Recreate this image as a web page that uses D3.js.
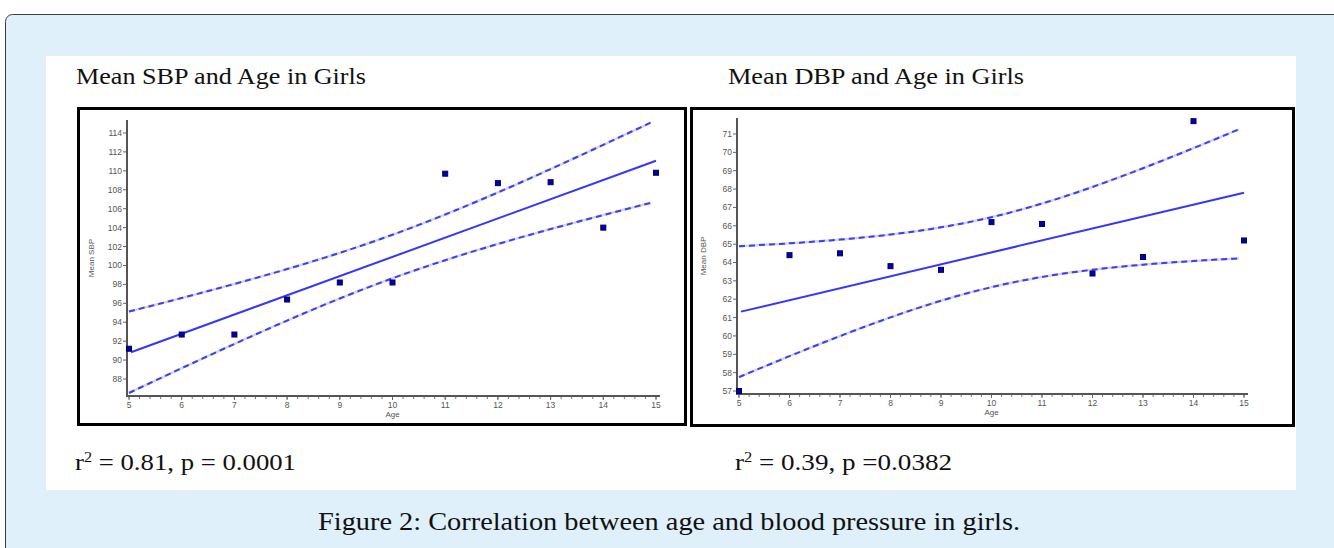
<!DOCTYPE html>
<html>
<head>
<meta charset="utf-8">
<script src="https://cdn.jsdelivr.net/npm/d3@7"></script>
<style>
  body { margin: 0; background: #fff; }
  svg { display: block; }
</style>
</head>
<body>
<div id="chart"></div>
<script>
// ages on the x axis
var ages = [5, 6, 7, 8, 9, 10, 11, 12, 13, 14, 15];
// mean systolic BP per age (girls)
var sbpValues = [91.2, 92.7, 92.7, 96.4, 98.2, 98.2, 109.7, 108.7, 108.8, 104.0, 109.8];
// mean diastolic BP per age (girls)
var dbpValues = [57.0, 64.4, 64.5, 63.8, 63.6, 66.2, 66.1, 63.4, 64.3, 71.7, 65.2];
var sbpTicks = [88, 90, 92, 94, 96, 98, 100, 102, 104, 106, 108, 110, 112, 114];
var dbpTicks = [57, 58, 59, 60, 61, 62, 63, 64, 65, 66, 67, 68, 69, 70, 71];
var ageTicks = [5, 6, 7, 8, 9, 10, 11, 12, 13, 14, 15];
var titles = ["Mean SBP and Age in Girls", "Mean DBP and Age in Girls"];
var stats = [["0.81", "p = 0.0001"], ["0.39", "p =0.0382"]];
var caption = "Figure 2: Correlation between age and blood pressure in girls.";
var tCrit = 2.262; // t(0.975, df = 9) for the 95% band

var svg = d3.select("#chart").append("svg")
  .attr("width", 1334)
  .attr("height", 548);

// light blue figure card
svg.append("rect")
  .attr("x", 5.5).attr("y", 14.5)
  .attr("width", 1340).attr("height", 560)
  .attr("rx", 7)
  .style("fill", "#dff0fb")
  .style("stroke", "#3d3d3d")
  .style("stroke-width", 1);

// white picture area
svg.append("rect")
  .attr("x", 46).attr("y", 56)
  .attr("width", 1250).attr("height", 434)
  .style("fill", "#fff");

function fitLine(xs, ys){
  var n = xs.length,
    mx = d3.mean(xs),
    my = d3.mean(ys),
    sxx = d3.sum(xs, function(x){ return (x - mx) * (x - mx); }),
    sxy = d3.sum(xs, function(x, i){ return (x - mx) * (ys[i] - my); }),
    slope = sxy / sxx,
    icpt = my - slope * mx;
  var sse = d3.sum(xs, function(x, i){
    var r = ys[i] - (icpt + slope * x);
    return r * r;
  });
  var s = Math.sqrt(sse / (n - 2));
  return {
    at: function(x){ return icpt + slope * x; },
    half: function(x){ return tCrit * s * Math.sqrt(1 / n + (x - mx) * (x - mx) / sxx); }
  };
}

function scatterPanel(g, data, cfg){
  var x = d3.scaleLinear().domain([5, 15]).range(cfg.xRange);
  var y = d3.scaleLinear().domain(cfg.yDomain).range(cfg.yRange);

  // box around the plot
  g.append("rect")
    .attr("x", cfg.box[0]).attr("y", cfg.box[1])
    .attr("width", cfg.box[2]).attr("height", cfg.box[3])
    .style("fill", "#fff")
    .style("stroke", "#000")
    .style("stroke-width", 3);

  var axisColor = "#555";
  var x0 = cfg.xRange[0] - 2, yBase = cfg.axisBottom;
  var sans = "Liberation Sans, Arial, sans-serif";

  // minor ticks on x
  var minor = d3.range(5, 15.001, 0.2);
  g.selectAll(".minorX").data(minor).enter().append("line")
    .attr("x1", function(d){ return x(d); })
    .attr("x2", function(d){ return x(d); })
    .attr("y1", yBase).attr("y2", yBase + 3)
    .style("stroke", "#777").style("stroke-width", 1);

  g.selectAll(".majorX").data(ageTicks).enter().append("line")
    .attr("x1", function(d){ return x(d); })
    .attr("x2", function(d){ return x(d); })
    .attr("y1", yBase).attr("y2", yBase + 4)
    .style("stroke", "#666").style("stroke-width", 1);

  g.selectAll(".xlab").data(ageTicks).enter().append("text")
    .attr("x", function(d){ return x(d); })
    .attr("y", yBase + 12)
    .attr("text-anchor", "middle")
    .style("font-family", sans)
    .style("font-size", "8.5px")
    .style("fill", "#555")
    .text(function(d){ return d; });

  g.selectAll(".ytick").data(cfg.yTicks).enter().append("line")
    .attr("x1", x0 - 4).attr("x2", x0)
    .attr("y1", function(d){ return y(d); })
    .attr("y2", function(d){ return y(d); })
    .style("stroke", "#666").style("stroke-width", 1);

  g.selectAll(".ylab").data(cfg.yTicks).enter().append("text")
    .attr("x", x0 - 5)
    .attr("y", function(d){ return y(d); })
    .attr("dy", "0.35em")
    .attr("text-anchor", "end")
    .style("font-family", sans)
    .style("font-size", "8.5px")
    .style("fill", "#555")
    .text(function(d){ return d; });

  // axis lines
  g.append("line")
    .attr("x1", x0).attr("x2", x0)
    .attr("y1", cfg.axisTop).attr("y2", yBase + 1)
    .style("stroke", axisColor).style("stroke-width", 2);
  g.append("line")
    .attr("x1", x0 - 1).attr("x2", cfg.xRange[1] + 4)
    .attr("y1", yBase).attr("y2", yBase)
    .style("stroke", axisColor).style("stroke-width", 2);

  g.append("text")
    .attr("transform", "translate(" + cfg.yLabelX + "," + ((cfg.axisTop + yBase) / 2) + ") rotate(-90)")
    .attr("text-anchor", "middle")
    .style("font-family", sans)
    .style("font-size", "8px")
    .style("fill", "#555")
    .text(cfg.yLabel);

  g.append("text")
    .attr("x", x(10)).attr("y", yBase + 21)
    .attr("text-anchor", "middle")
    .style("font-family", sans)
    .style("font-size", "8px")
    .style("fill", "#555")
    .text("Age");

  // regression line and 95% bands
  var fit = fitLine(ages, data);
  var xs = d3.range(5, 14.901, 0.1);
  var upper = d3.line()
    .x(function(d){ return x(d); })
    .y(function(d){ return y(fit.at(d) + fit.half(d)); });
  var lower = d3.line()
    .x(function(d){ return x(d); })
    .y(function(d){ return y(fit.at(d) - fit.half(d)); });

  [upper, lower].forEach(function(band){
    g.append("path").attr("d", band(xs))
      .style("fill", "none").style("stroke", "#d6d6d6").style("stroke-width", 2.5);
    g.append("path").attr("d", band(xs))
      .style("fill", "none").style("stroke", "#3d3dff").style("stroke-width", 2)
      .style("stroke-dasharray", "6,4");
  });

  g.append("line")
    .attr("x1", x(5) + 2).attr("y1", y(fit.at(5)))
    .attr("x2", x(15)).attr("y2", y(fit.at(15)))
    .style("stroke", "#3535ff").style("stroke-width", 2);

  g.selectAll(".pt").data(data).enter().append("rect")
    .attr("x", function(d, i){ return x(ages[i]) - 2.5; })
    .attr("y", function(d){ return y(d) - 2.5; })
    .attr("width", 5).attr("height", 5)
    .style("fill", "#0000b0")
    .style("stroke", "#00005a")
    .style("stroke-width", 1);
}

scatterPanel(svg.append("g"), sbpValues, {
  box: [78.5, 108.5, 607, 316],
  xRange: [129, 656],
  yDomain: [88, 114],
  yRange: [379, 133],
  axisTop: 120,
  axisBottom: 396,
  yTicks: sbpTicks,
  yLabel: "Mean SBP",
  yLabelX: 94
});

scatterPanel(svg.append("g"), dbpValues, {
  box: [691.5, 108.5, 602, 317],
  xRange: [739, 1244],
  yDomain: [57, 71],
  yRange: [391, 134],
  axisTop: 118,
  axisBottom: 394,
  yTicks: dbpTicks,
  yLabel: "Mean DBP",
  yLabelX: 706
});

var serif = "'Liberation Serif', 'Times New Roman', serif";

// panel titles
svg.selectAll(".title").data(titles).enter().append("text")
  .attr("x", function(d, i){ return i ? 728 : 76; })
  .attr("y", 84)
  .attr("textLength", function(d, i){ return i ? 296 : 290; })
  .attr("lengthAdjust", "spacingAndGlyphs")
  .style("font-family", serif)
  .style("font-size", "23px")
  .style("fill", "#111")
  .text(function(d){ return d; });

// r squared lines
stats.forEach(function(s, i){
  var t = svg.append("text")
    .attr("x", i ? 735 : 75)
    .attr("y", 470)
    .attr("textLength", i ? 217 : 221)
    .attr("lengthAdjust", "spacingAndGlyphs")
    .style("font-family", serif)
    .style("font-size", "23px")
    .style("fill", "#111");
  t.append("tspan").text("r");
  t.append("tspan").attr("dy", -8).style("font-size", "14px").text("2");
  t.append("tspan").attr("dy", 8).text(" = " + s[0] + ", " + s[1]);
});

svg.append("text")
  .attr("x", 318).attr("y", 530)
  .attr("textLength", 702)
  .attr("lengthAdjust", "spacingAndGlyphs")
  .style("font-family", serif)
  .style("font-size", "25px")
  .style("fill", "#111")
  .text(caption);
</script>
</body>
</html>
